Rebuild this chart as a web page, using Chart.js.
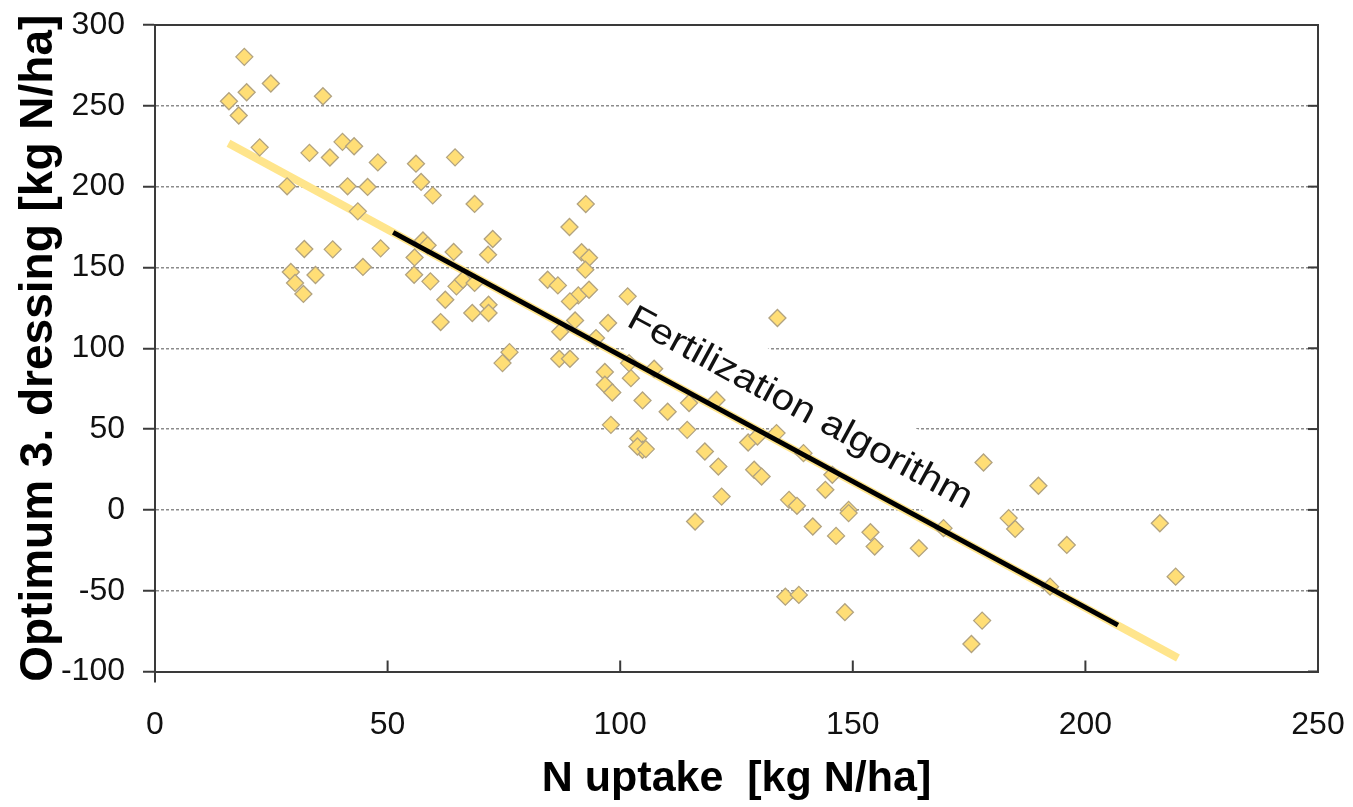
<!DOCTYPE html>
<html>
<head>
<meta charset="utf-8">
<script src="https://cdn.jsdelivr.net/npm/chart.js@4/dist/chart.umd.min.js"></script>
<style>
  html, body { margin: 0; padding: 0; background: #fff; }
  canvas { display: block; }
</style>
</head>
<body>
<canvas id="c" width="1353" height="807"></canvas>
<script>
// ---- Data ----
const nUptake = [
  19.2, 15.9, 19.7, 24.9, 18.0, 36.1, 22.5, 33.2, 37.6, 40.3, 42.8, 47.9, 56.1, 57.2, 59.7, 64.5, 68.7,
  28.4, 41.4, 45.7, 43.6, 32.1, 38.2, 48.5, 44.7, 29.2, 34.5, 30.1, 31.9, 55.8, 57.6, 58.6, 64.2, 71.6,
  72.6, 55.7, 59.2, 62.4, 61.4, 64.8, 66.2, 68.7, 68.2, 71.7, 71.7,
  92.6, 89.1, 91.7, 93.3, 92.5, 84.4, 86.6, 91.0, 93.3, 89.2, 90.3, 87.1, 97.4, 94.8, 101.6, 76.2, 74.7,
  86.9, 89.2, 96.7, 96.7, 98.3, 102.3, 101.9, 107.3, 104.8, 110.2, 114.8, 98.0, 114.4, 103.9, 104.8,
  103.7, 105.5, 118.2, 121.1, 121.8, 120.7,
  133.8, 127.5, 129.5, 128.8, 130.4, 116.1, 136.3, 138.0, 144.1, 145.6, 149.1, 149.1, 141.4, 146.4,
  153.8, 154.7, 164.2, 178.1, 135.5, 138.4, 148.3, 177.8, 175.5, 139.4, 133.6,
  189.9, 184.9, 183.5, 196.0, 216.0, 219.4, 192.4, 169.5
];
const dressing = [
  280.3, 252.8, 258.4, 263.8, 244.0, 255.9, 224.3, 220.9, 218.0, 227.7, 225.0, 215.0, 214.2, 202.9, 194.6, 218.1, 189.3,
  200.2, 200.2, 199.8, 184.7, 161.4, 161.2, 161.8, 150.3, 147.2, 145.3, 140.4, 133.6, 156.2, 166.7, 163.7, 159.6, 157.9,
  167.6, 145.5, 141.4, 130.0, 116.2, 138.3, 142.4, 140.4, 121.8, 126.9, 121.8,
  189.2, 175.0, 159.4, 156.0, 148.6, 142.4, 138.9, 132.7, 136.2, 129.0, 117.2, 110.2, 115.6, 106.3, 132.1, 97.6, 90.8,
  93.5, 93.5, 85.3, 77.4, 72.6, 81.5, 90.8, 87.3, 67.7, 60.7, 66.1, 52.6, 49.5, 44.2, 37.2,
  39.2, 37.6, 36.1, 26.8, 8.2, 68.0,
  118.7, 41.7, 45.4, 24.8, 20.6, -7.2, 6.2, 2.5, 12.4, 21.7, 0.0, -2.0, -10.3, -16.1,
  -13.8, -22.7, -23.7, 29.3, -53.7, -52.6, -63.3, -68.5, -83.0, 35.1, 47.5,
  14.9, -11.8, -5.1, -21.7, -8.3, -41.3, -47.5, -11.3
];
// Regression line (yellow) and fertilization algorithm (black)
const trendX = [15.8, 219.9];
const trendY = [226.9, -91.6];
const algoX = [51.2, 207.0];
const algoY = [171.7, -71.3];
// Axis ticks
const xTicks = [0, 50, 100, 150, 200, 250];
const yTicks = [-100, -50, 0, 50, 100, 150, 200, 250, 300];
// Annotation
const algoLabel = 'Fertilization algorithm';
const algoLabelAt = { x: 137.6, y: 57.2 };

const xTitle = 'N uptake  [kg N/ha]';
const yTitle = 'Optimum 3. dressing [kg N/ha]';

const FONT = "'Liberation Sans', Arial, Helvetica, sans-serif";

const toPts = (xs, ys) => xs.map((x, i) => ({ x, y: ys[i] }));

// ---- Plugins (frame, inner x ticks, annotation) ----
const framePlugin = {
  id: 'frame',
  afterDraw(chart) {
    const { ctx, chartArea: a, scales } = chart;
    ctx.save();
    ctx.strokeStyle = '#3a3a3a';
    ctx.lineWidth = 2;
    ctx.beginPath();
    ctx.moveTo(a.left, a.top);
    ctx.lineTo(a.right, a.top);
    ctx.lineTo(a.right, a.bottom);
    ctx.stroke();
    xTicks.forEach(v => {
      const px = scales.x.getPixelForValue(v);
      ctx.beginPath();
      ctx.moveTo(px, a.bottom);
      ctx.lineTo(px, a.bottom - 11);
      ctx.stroke();
    });
    yTicks.forEach(v => {
      const py = scales.y.getPixelForValue(v);
      ctx.beginPath();
      ctx.moveTo(a.right - 10, py);
      ctx.lineTo(a.right, py);
      ctx.stroke();
    });
    ctx.beginPath();
    ctx.moveTo(a.left, a.bottom);
    ctx.lineTo(a.left, a.bottom + 11);
    ctx.stroke();
    ctx.restore();
  }
};

function labelFrame(chart) {
  const { scales } = chart;
  const x0 = scales.x.getPixelForValue(algoX[0]);
  const y0 = scales.y.getPixelForValue(algoY[0]);
  const x1 = scales.x.getPixelForValue(algoX[1]);
  const y1 = scales.y.getPixelForValue(algoY[1]);
  const ang = Math.atan2(y1 - y0, x1 - x0);
  const px = scales.x.getPixelForValue(algoLabelAt.x);
  const py = scales.y.getPixelForValue(algoLabelAt.y);
  return { ang, px, py };
}

const labelPlugin = {
  id: 'algoLabel',
  beforeDatasetsDraw(chart) {
    const { ctx } = chart;
    const { ang, px, py } = labelFrame(chart);
    ctx.save();
    ctx.translate(px, py);
    ctx.rotate(ang);
    ctx.fillStyle = '#ffffff';
    ctx.fillRect(-200, -48, 435, 69);
    ctx.restore();
  },
  afterDatasetsDraw(chart) {
    const { ctx } = chart;
    const { ang, px, py } = labelFrame(chart);
    ctx.save();
    ctx.translate(px, py);
    ctx.rotate(ang);
    ctx.scale(1.13, 1);
    ctx.font = '36px ' + FONT;
    ctx.fillStyle = '#111';
    ctx.textAlign = 'center';
    ctx.textBaseline = 'alphabetic';
    ctx.fillText(algoLabel, 0, 0);
    ctx.restore();
  }
};

// ---- Chart ----
new Chart(document.getElementById('c'), {
  type: 'scatter',
  data: {
    datasets: [
      {
        type: 'line',
        label: 'Regression',
        data: toPts(trendX, trendY),
        borderColor: 'rgb(255,229,140)',
        borderWidth: 8,
        pointRadius: 0,
        fill: false,
        order: 3
      },
      {
        label: 'Optimum 3. dressing',
        data: toPts(nUptake, dressing),
        pointStyle: 'rectRot',
        pointRadius: 8.5,
        pointHoverRadius: 8.5,
        backgroundColor: 'rgb(255,222,118)',
        borderColor: 'rgb(178,163,128)',
        borderWidth: 1.3,
        order: 2
      },
      {
        type: 'line',
        label: 'Fertilization algorithm',
        data: toPts(algoX, algoY),
        borderColor: '#000000',
        borderWidth: 5,
        pointRadius: 0,
        fill: false,
        order: 1
      }
    ]
  },
  options: {
    responsive: false,
    animation: false,
    devicePixelRatio: 1,
    layout: { padding: { top: 25, right: 35, left: 0, bottom: 0 } },
    plugins: {
      legend: { display: false },
      tooltip: { enabled: false }
    },
    scales: {
      x: {
        type: 'linear',
        min: 0,
        max: 250,
        afterBuildTicks: s => { s.ticks = xTicks.map(v => ({ value: v })); },
        afterFit: s => { s.height = 135.5; s.paddingLeft = 0; s.paddingRight = 0; },
        grid: { display: true, drawOnChartArea: false, drawTicks: false },
        border: { display: true, color: '#3a3a3a', width: 2 },
        ticks: {
          padding: 34,
          color: '#111',
          font: { family: FONT, size: 32 },
          maxRotation: 0
        },
        title: {
          display: true,
          text: xTitle,
          color: '#000',
          font: { family: FONT, size: 43, weight: 'bold' },
          padding: { top: 0, bottom: 2 }
        }
      },
      y: {
        type: 'linear',
        min: -100,
        max: 300,
        afterBuildTicks: s => { s.ticks = yTicks.map(v => ({ value: v })); },
        afterFit: s => { s.width = 155; s.paddingTop = 0; s.paddingBottom = 0; },
        grid: {
          color: 'rgba(120,120,120,0.85)',
          lineWidth: 1.5,
          drawTicks: true,
          tickLength: 12,
          tickColor: '#3a3a3a',
          tickWidth: 2,
          tickBorderDash: []
        },
        border: { display: true, color: '#3a3a3a', width: 2, dash: [3, 2] },
        ticks: {
          padding: 18,
          color: '#111',
          font: { family: FONT, size: 32 }
        },
        title: {
          display: true,
          text: yTitle,
          color: '#000',
          font: { family: FONT, size: 46, weight: 'bold' },
          padding: { top: 12, bottom: 0 }
        }
      }
    }
  },
  plugins: [labelPlugin, framePlugin]
});
</script>
</body>
</html>
